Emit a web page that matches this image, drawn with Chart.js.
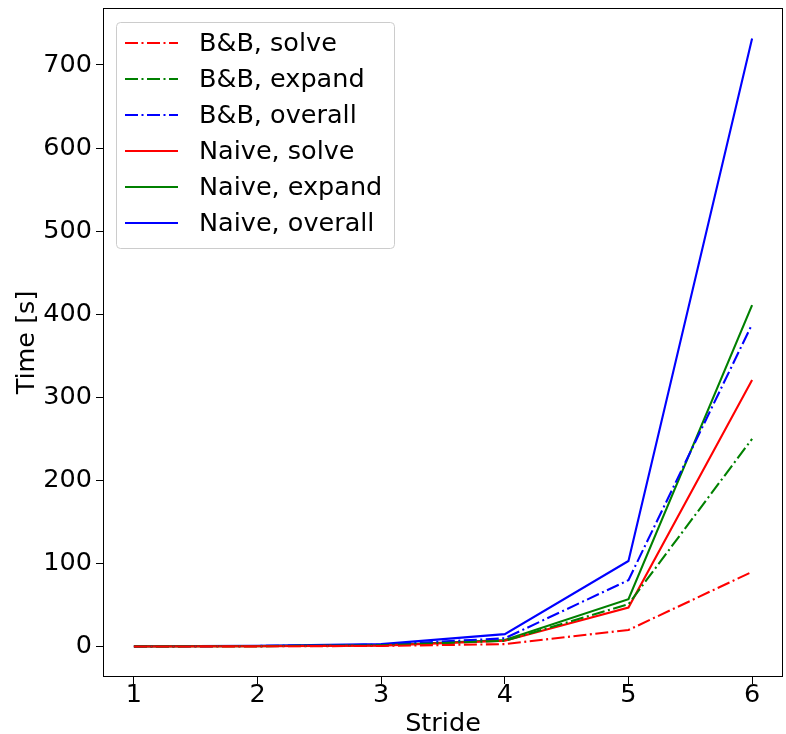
<!DOCTYPE html>
<html>
<head>
<meta charset="utf-8">
<script src="https://cdn.jsdelivr.net/npm/chart.js@4"></script>
<style>
  body { margin: 0; background: #fff; }
  #wrap { width: 786px; height: 734px; }
</style>
</head>
<body>
<div id="wrap"><canvas id="timeChart" width="786" height="734"></canvas></div>
<script>
const strides = [1, 2, 3, 4, 5, 6];
const bbSolve = [0.1, 0.3, 0.8, 3, 20, 90];
const bbExpand = [0.2, 0.5, 1.5, 7, 51, 250];
const bbOverall = [0.3, 0.8, 2.3, 10, 80, 388];
const naiveSolve = [0.1, 0.4, 1.2, 7, 47, 321];
const naiveExpand = [0.2, 0.6, 1.6, 8, 57, 411];
const naiveOverall = [0.4, 1.0, 3, 15, 103, 732];
const yTicks = [0, 100, 200, 300, 400, 500, 600, 700];

const dashDot = [13, 3.5, 2, 3.5];
const font = 'DejaVu Sans';
const fontSize = 25.5;

function series(label, values, color, dash) {
  return {
    label: label,
    data: strides.map((s, i) => ({ x: s, y: values[i] })),
    borderColor: color,
    backgroundColor: color,
    borderWidth: 2.1,
    borderDash: dash,
    pointRadius: 0,
    fill: false,
    tension: 0
  };
}

const datasets = [
  series('B&B, solve', bbSolve, '#ff0000', dashDot),
  series('B&B, expand', bbExpand, '#008000', dashDot),
  series('B&B, overall', bbOverall, '#0000ff', dashDot),
  series('Naive, solve', naiveSolve, '#ff0000', []),
  series('Naive, expand', naiveExpand, '#008000', []),
  series('Naive, overall', naiveOverall, '#0000ff', [])
];

// frame on all four sides + legend box like matplotlib
const framePlugin = {
  id: 'frame',
  afterDraw(chart) {
    const { ctx, chartArea: a } = chart;
    ctx.save();
    ctx.strokeStyle = '#000';
    ctx.lineWidth = 1;
    ctx.strokeRect(a.left + 0.5, a.top + 0.5, a.right - a.left - 1, a.bottom - a.top - 1);

    // legend
    const bx = a.left + 13, by = a.top + 14, bw = 278, bh = 226;
    ctx.fillStyle = 'rgba(255,255,255,0.8)';
    ctx.strokeStyle = '#cccccc';
    ctx.beginPath();
    ctx.roundRect(bx + 0.5, by + 0.5, bw, bh, 4);
    ctx.fill();
    ctx.stroke();
    ctx.font = fontSize + 'px "' + font + '"';
    ctx.textBaseline = 'middle';
    ctx.textAlign = 'left';
    datasets.forEach((d, i) => {
      const y = by + 21 + i * 36;
      ctx.strokeStyle = d.borderColor;
      ctx.lineWidth = 2.1;
      ctx.setLineDash(d.borderDash);
      ctx.beginPath();
      ctx.moveTo(bx + 9, y);
      ctx.lineTo(bx + 62, y);
      ctx.stroke();
      ctx.setLineDash([]);
      ctx.fillStyle = '#000';
      ctx.fillText(d.label, bx + 83, y + 1);
    });
    ctx.restore();
  }
};

new Chart(document.getElementById('timeChart'), {
  type: 'line',
  data: { datasets },
  options: {
    responsive: false,
    animation: false,
    layout: { padding: { top: 8, right: 3, left: 0, bottom: 0 } },
    plugins: { legend: { display: false }, tooltip: { enabled: false } },
    scales: {
      x: {
        type: 'linear',
        min: 0.75,
        max: 6.25,
        afterBuildTicks: s => { s.ticks = strides.map(v => ({ value: v })); },
        afterFit: s => { s.height = 57; s.paddingLeft = 0; s.paddingRight = 0; },
        grid: { drawOnChartArea: false, drawTicks: true, tickLength: 7, tickColor: '#000' },
        border: { display: false },
        ticks: { color: '#000', font: { family: font, size: fontSize, lineHeight: 1 }, padding: -1, maxRotation: 0 },
        title: { display: true, text: 'Stride', color: '#000', font: { family: font, size: fontSize, lineHeight: 1 }, padding: { top: 0, bottom: -3 } }
      },
      y: {
        type: 'linear',
        min: -36.6,
        max: 768.6,
        afterBuildTicks: s => { s.ticks = yTicks.map(v => ({ value: v })); },
        afterFit: s => { s.width = 103; s.paddingTop = 0; s.paddingBottom = 0; },
        grid: { drawOnChartArea: false, drawTicks: true, tickLength: 7, tickColor: '#000' },
        border: { display: false },
        ticks: { color: '#000', font: { family: font, size: fontSize }, padding: 4 },
        title: { display: true, text: 'Time [s]', color: '#000', font: { family: font, size: fontSize, lineHeight: 1 }, padding: { top: 15, bottom: 0 } }
      }
    }
  },
  plugins: [framePlugin]
});
</script>
</body>
</html>
